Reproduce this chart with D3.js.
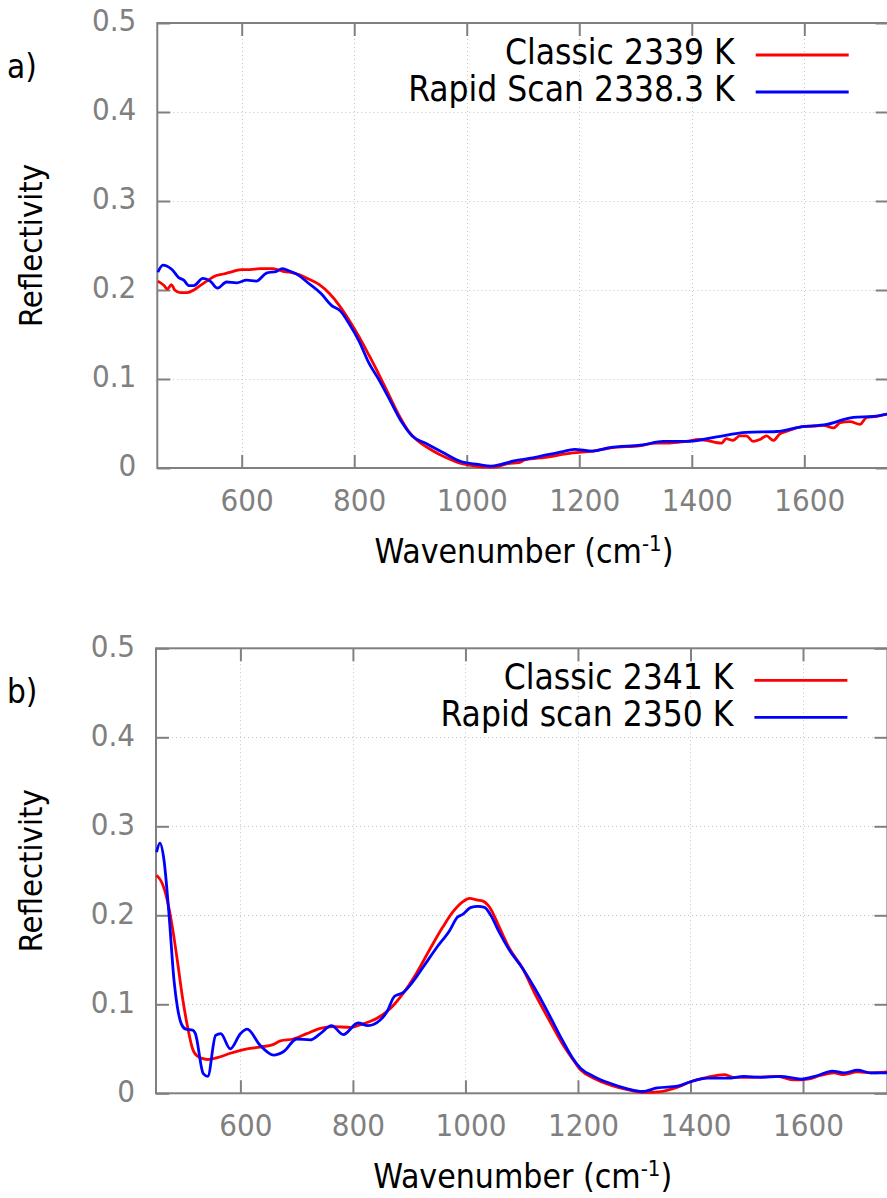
<!DOCTYPE html>
<html>
<head>
<meta charset="utf-8">
<script src="https://cdn.jsdelivr.net/npm/d3@7"></script>
<style>
  body { margin: 0; background: #fff; }
  #chart { width: 887px; height: 1198px; }
  text { font-family: "DejaVu Sans Condensed", "DejaVu Sans", sans-serif; }
</style>
</head>
<body>
<div id="chart"></div>
<script>
// axis values
const xDomain = [450, 1750];
const yDomain = [0, 0.5];
const xTicks = [600, 800, 1000, 1200, 1400, 1600];
const yTicks = [0, 0.1, 0.2, 0.3, 0.4, 0.5];

const panelLetters = ["a)", "b)"];
const legendA = ["Classic 2339 K", "Rapid Scan 2338.3 K"];
const legendB = ["Classic 2341 K", "Rapid scan 2350 K"];

// [wavenumber, reflectivity]
const classicA = [
  [451,0.210],[462,0.205],[468,0.201],[475,0.206],[481,0.200],[491,0.197],[503,0.197],
  [515,0.200],[526,0.205],[538,0.210],[550,0.215],[568,0.218],[585,0.221],[600,0.223],
  [615,0.223],[632,0.224],[656,0.224],[673,0.221],[685,0.220],[703,0.217],[720,0.212],
  [738,0.206],[756,0.196],[773,0.183],[791,0.166],[809,0.147],[826,0.127],[844,0.105],
  [861,0.083],[879,0.060],[897,0.041],[914,0.030],[938,0.020],[962,0.012],[985,0.006],
  [1008,0.003],[1032,0.001],[1050,0.001],[1073,0.005],[1093,0.006],[1103,0.009],[1140,0.012],
  [1188,0.017],[1224,0.019],[1259,0.023],[1307,0.025],[1337,0.028],[1360,0.028],[1390,0.030],
  [1414,0.032],[1426,0.031],[1453,0.028],[1461,0.033],[1473,0.031],[1485,0.036],[1497,0.036],
  [1509,0.030],[1521,0.032],[1533,0.036],[1545,0.031],[1556,0.038],[1568,0.041],[1592,0.046],
  [1616,0.047],[1634,0.048],[1652,0.045],[1664,0.051],[1681,0.052],[1699,0.049],[1711,0.057],
  [1729,0.058],[1750,0.061]
];
const rapidA = [
  [451,0.220],[460,0.228],[476,0.223],[488,0.214],[497,0.211],[506,0.205],[515,0.205],
  [531,0.213],[544,0.210],[557,0.202],[573,0.209],[591,0.208],[609,0.211],[626,0.210],
  [644,0.219],[662,0.221],[672,0.224],[682,0.222],[700,0.217],[720,0.207],[741,0.196],
  [759,0.183],[776,0.176],[791,0.162],[809,0.142],[826,0.118],[844,0.099],[862,0.078],
  [885,0.051],[903,0.036],[926,0.028],[956,0.018],[991,0.007],[1020,0.004],[1043,0.002],
  [1061,0.004],[1084,0.008],[1114,0.011],[1144,0.015],[1168,0.018],[1191,0.021],[1224,0.019],
  [1254,0.023],[1313,0.026],[1349,0.030],[1396,0.030],[1444,0.035],[1497,0.040],[1551,0.041],
  [1592,0.046],[1640,0.049],[1687,0.057],[1723,0.058],[1750,0.061]
];
const classicB = [
  [451,0.245],[461,0.236],[470,0.217],[479,0.187],[488,0.149],[497,0.108],[506,0.075],
  [515,0.050],[523,0.042],[541,0.038],[559,0.040],[582,0.045],[612,0.050],[635,0.052],
  [659,0.055],[671,0.059],[694,0.061],[718,0.067],[742,0.073],[765,0.075],[795,0.074],
  [818,0.078],[842,0.084],[866,0.095],[889,0.112],[913,0.135],[936,0.161],[960,0.187],
  [978,0.204],[995,0.215],[1007,0.219],[1022,0.217],[1031,0.216],[1043,0.209],[1060,0.187],
  [1078,0.163],[1102,0.140],[1125,0.110],[1149,0.082],[1172,0.056],[1190,0.039],[1205,0.026],
  [1228,0.017],[1258,0.009],[1288,0.004],[1317,0.001],[1347,0.002],[1377,0.007],[1400,0.013],
  [1430,0.018],[1460,0.021],[1477,0.018],[1513,0.018],[1554,0.019],[1584,0.015],[1608,0.016],
  [1631,0.020],[1655,0.023],[1670,0.021],[1697,0.024],[1720,0.023],[1750,0.024]
];
const rapidB = [
  [451,0.271],[457,0.281],[464,0.263],[473,0.202],[482,0.127],[488,0.097],[495,0.078],
  [503,0.072],[515,0.071],[520,0.067],[534,0.022],[542,0.019],[556,0.065],[565,0.067],
  [582,0.050],[600,0.067],[612,0.072],[635,0.054],[659,0.043],[677,0.047],[700,0.061],
  [724,0.060],[742,0.067],[762,0.076],[783,0.066],[809,0.079],[827,0.076],[848,0.082],
  [860,0.091],[874,0.109],[889,0.113],[901,0.121],[925,0.142],[948,0.163],[972,0.183],
  [986,0.198],[995,0.201],[1010,0.209],[1022,0.210],[1034,0.209],[1045,0.200],[1060,0.181],
  [1078,0.161],[1102,0.140],[1125,0.116],[1149,0.088],[1172,0.060],[1190,0.040],[1205,0.028],
  [1228,0.019],[1258,0.011],[1288,0.005],[1314,0.002],[1341,0.006],[1377,0.008],[1400,0.013],
  [1430,0.017],[1466,0.017],[1495,0.019],[1525,0.018],[1560,0.019],[1596,0.016],[1626,0.020],
  [1652,0.025],[1673,0.023],[1697,0.026],[1720,0.023],[1750,0.023]
];

class SpectrumPanel {
    constructor(svg, cfg) {
        this.svg = svg;
        this.cfg = cfg;
        this.box = cfg.box;
        this.g = svg.append("g");
        this.initScales();
        this.initGrid();
        this.initAxes();
        this.drawLines();
        this.drawLegend();
        this.drawLabels();
    }

    initScales() {
        this.x = d3.scaleLinear().domain(xDomain).range([this.box.left, this.box.right]);
        this.y = d3.scaleLinear().domain(yDomain).range([this.box.bottom, this.box.top]);
    }

    initGrid() {
        const grid = this.g.append("g")
            .attr("stroke", "#c4c4c4")
            .attr("stroke-width", 1)
            .attr("stroke-dasharray", "1,3");
        grid.selectAll(".vx").data(xTicks).enter().append("line")
            .attr("x1", d => Math.round(this.x(d)) + 0.5).attr("x2", d => Math.round(this.x(d)) + 0.5)
            .attr("y1", this.box.top).attr("y2", this.box.bottom);
        grid.selectAll(".hy").data(yTicks.slice(1, -1)).enter().append("line")
            .attr("y1", d => Math.round(this.y(d)) + 0.5).attr("y2", d => Math.round(this.y(d)) + 0.5)
            .attr("x1", this.box.left).attr("x2", this.box.right);
    }

    initAxes() {
        const b = this.box;
        const tickLen = 13;

        // bottom, labelled
        const bottom = this.g.append("g")
            .attr("transform", `translate(0,${b.bottom})`)
            .call(d3.axisBottom(this.x).tickValues(xTicks).tickSizeInner(-tickLen).tickSizeOuter(0)
                .tickFormat(d3.format("d")));
        bottom.selectAll("text")
            .attr("y", 43).attr("dy", null).attr("dx", 5)
            .attr("fill", "#808080").style("font-size", "31px");

        // left, labelled
        const left = this.g.append("g")
            .attr("transform", `translate(${b.left},0)`)
            .call(d3.axisLeft(this.y).tickValues(yTicks).tickSizeInner(-tickLen).tickSizeOuter(0)
                .tickPadding(21).tickFormat(d => d === 0 ? "0" : d3.format(".1f")(d)));
        left.selectAll("text")
            .attr("dy", "0.25em")
            .attr("fill", "#808080").style("font-size", "31px");

        // mirrored ticks
        this.g.append("g")
            .attr("transform", `translate(0,${b.top})`)
            .call(d3.axisTop(this.x).tickValues(xTicks).tickSizeInner(-tickLen).tickSizeOuter(0).tickFormat(""));
        this.g.append("g")
            .attr("transform", `translate(${b.right},0)`)
            .call(d3.axisRight(this.y).tickValues(yTicks).tickSizeInner(-tickLen).tickSizeOuter(0).tickFormat(""));

        this.g.selectAll(".domain").remove();
        this.g.selectAll(".tick line").attr("stroke", "#808080").attr("stroke-width", 2);

        // frame
        this.g.append("rect")
            .attr("x", b.left).attr("y", b.top)
            .attr("width", b.right - b.left).attr("height", b.bottom - b.top)
            .attr("fill", "none").attr("stroke", "#808080").attr("stroke-width", 2);
    }

    drawLines() {
        const line = d3.line()
            .x(d => this.x(d[0]))
            .y(d => this.y(d[1]))
            .curve(d3.curveMonotoneX);
        this.cfg.series.forEach(s => {
            this.g.append("path")
                .datum(s.data)
                .attr("fill", "none")
                .attr("stroke", s.color)
                .attr("stroke-width", 2.8)
                .attr("stroke-linejoin", "round")
                .attr("d", line);
        });
    }

    drawLegend() {
        const b = this.box;
        const leg = this.g.append("g");
        this.cfg.series.forEach((s, i) => {
            const ly = b.top + 32 + i * 37;
            leg.append("text")
                .attr("x", b.right - 154).attr("y", ly + 9)
                .attr("text-anchor", "end")
                .style("font-size", "35px")
                .text(s.name);
            leg.append("line")
                .attr("x1", b.right - 133).attr("x2", b.right - 40)
                .attr("y1", ly).attr("y2", ly)
                .attr("stroke", s.color).attr("stroke-width", 2.8);
        });
    }

    drawLabels() {
        const b = this.box;
        const title = this.g.append("text")
            .attr("x", (b.left + b.right) / 2 + 1)
            .attr("y", b.bottom + 95)
            .attr("text-anchor", "middle")
            .style("font-size", "33.5px");
        title.append("tspan").text("Wavenumber (cm");
        title.append("tspan").attr("dy", -12).style("font-size", "22px").text("-1");
        title.append("tspan").attr("dy", 12).text(")");

        this.g.append("text")
            .attr("transform", `translate(42,${(b.top + b.bottom) / 2}) rotate(-90)`)
            .attr("text-anchor", "middle")
            .style("font-size", "32.5px")
            .text("Reflectivity");

        this.g.append("text")
            .attr("x", 7).attr("y", b.top + 55)
            .style("font-size", "33px")
            .text(this.cfg.letter);
    }
}

const svg = d3.select("#chart").append("svg")
    .attr("width", 887).attr("height", 1198)
    .attr("viewBox", "0 0 887 1198");

new SpectrumPanel(svg, {
    box: { left: 157.3, right: 888.7, top: 23, bottom: 468 },
    letter: panelLetters[0],
    series: [
        { name: legendA[0], data: classicA, color: "#ff0000" },
        { name: legendA[1], data: rapidA, color: "#0000ff" }
    ]
});

new SpectrumPanel(svg, {
    box: { left: 156, right: 887.4, top: 648.3, bottom: 1093.3 },
    letter: panelLetters[1],
    series: [
        { name: legendB[0], data: classicB, color: "#ff0000" },
        { name: legendB[1], data: rapidB, color: "#0000ff" }
    ]
});
</script>
</body>
</html>
